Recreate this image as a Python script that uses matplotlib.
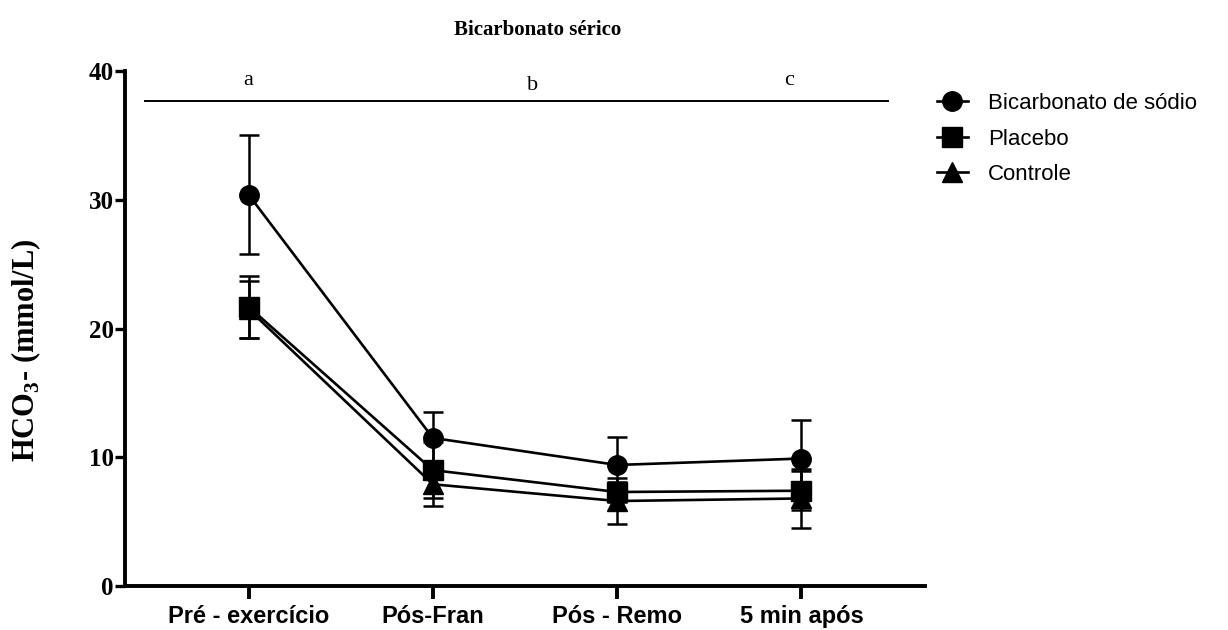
import numpy as np
import matplotlib
matplotlib.use('Agg')
from matplotlib import pyplot as plt
from matplotlib.lines import Line2D

momentos = ['Pré - exercício', 'Pós-Fran', 'Pós - Remo', '5 min após']

bicarb_media = [30.4, 11.5, 9.4, 9.9]
bicarb_dp = [4.6, 2.0, 2.2, 3.0]
placebo_media = [21.7, 9.0, 7.3, 7.4]
placebo_dp = [2.4, 2.2, 0.8, 1.5]
controle_media = [21.5, 7.9, 6.6, 6.8]
controle_dp = [2.2, 1.7, 1.8, 2.3]

letras = ['a', 'b', 'c']
letras_x = [0.0, 1.54, 2.93]
letras_y = [39.3, 38.9, 39.3]

serif = 'Liberation Serif'
sans = 'Liberation Sans'

plt.rcParams['mathtext.fontset'] = 'custom'
plt.rcParams['mathtext.rm'] = 'Liberation Serif:bold'
plt.rcParams['mathtext.bf'] = 'Liberation Serif:bold'

fig = plt.figure(figsize=(12.28, 6.3), dpi=100)
ax = fig.add_axes([125 / 1228, 1 - 586 / 630, 800 / 1228, (586 - 71) / 630])

x = np.arange(len(momentos))
series = [
    ('Controle', controle_media, controle_dp, '^'),
    ('Placebo', placebo_media, placebo_dp, 's'),
    ('Bicarbonato de sódio', bicarb_media, bicarb_dp, 'o'),
]
for nome, media, dp, mk in series:
    ax.errorbar(x, media, yerr=dp, color='black', marker=mk, ms=14,
                lw=1.9, elinewidth=1.8, capsize=7.5, capthick=1.8,
                clip_on=False, zorder=3)

ax.set_xlim(-0.67, 3.67)
ax.set_ylim(0, 40)
ax.set_yticks([0, 10, 20, 30, 40])
ax.set_xticks(x)
ax.set_xticklabels(momentos, fontfamily=sans, fontweight='bold', fontsize=17)
for lab in ax.get_yticklabels():
    lab.set_fontfamily(serif)
    lab.set_fontweight('bold')
    lab.set_fontsize(18)

ax.spines['top'].set_visible(False)
ax.spines['right'].set_visible(False)
ax.spines['left'].set_linewidth(2.8)
ax.spines['bottom'].set_linewidth(2.8)
ax.tick_params(axis='y', length=7, width=2.4, pad=1)
ax.tick_params(axis='x', length=9, width=2.8, pad=5)

fig.text(26 / 1228, 1 - 350 / 630, 'HCO$_{3}$- (mmol/L)', rotation=90,
         ha='center', va='center', fontfamily=serif, fontweight='bold',
         fontsize=22)

# linha de significancia e letras
ax.plot([-0.56, 3.47], [37.65, 37.65], color='black', lw=1.4, clip_on=False)
for t, lx, ly in zip(letras, letras_x, letras_y):
    ax.text(lx, ly, t, ha='center', va='center', fontfamily=serif, fontsize=16)

fig.text(538 / 1228, 1 - 30 / 630, 'Bicarbonato sérico', ha='center', va='center',
         fontfamily=serif, fontweight='bold', fontsize=15)

ordem = ['Bicarbonato de sódio', 'Placebo', 'Controle']
marcas = ['o', 's', '^']
handles = [Line2D([], [], color='black', marker=m, ms=14, lw=1.9) for m in marcas]
leg = ax.legend(handles, ordem, loc='upper left',
                bbox_to_anchor=(928 / 1228, 1 - 84 / 630),
                bbox_transform=fig.transFigure, frameon=False,
                prop={'family': sans, 'size': 16}, handlelength=1.4,
                handletextpad=0.9, labelspacing=0.66, borderaxespad=0)

fig.savefig('out.png', dpi=100)
